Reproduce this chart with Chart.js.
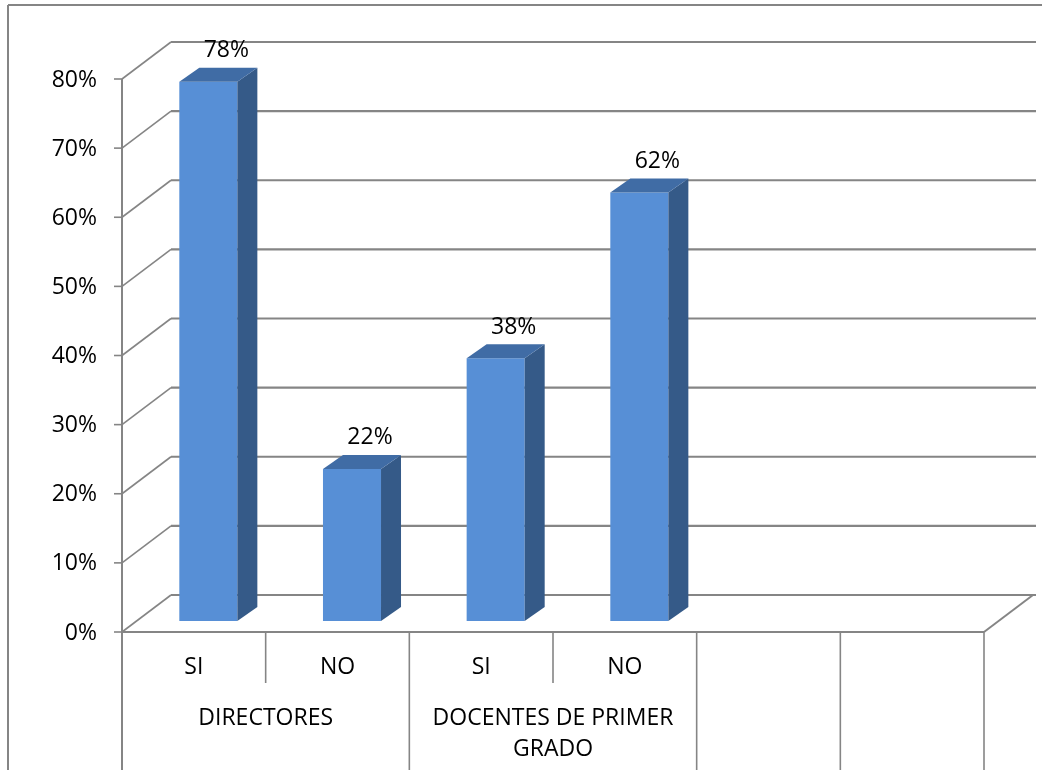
<!DOCTYPE html>
<html>
<head>
<meta charset="utf-8">
<script src="https://cdn.jsdelivr.net/npm/chart.js@4.4.1/dist/chart.umd.min.js"></script>
<style>
  html, body { margin: 0; padding: 0; background: #fff; }
  canvas { display: block; }
</style>
</head>
<body>
<canvas id="chart" width="1042" height="770"></canvas>
<script>
// Data
const categories  = ["SI", "NO", "SI", "NO", "", ""];
const groupLabels = ["DIRECTORES", "DOCENTES DE PRIMER GRADO", "", ""];
const groupSpans  = [2, 2, 1, 1];
const values      = [0.78, 0.22, 0.38, 0.62, null, null];
const yTicks      = [0, 0.1, 0.2, 0.3, 0.4, 0.5, 0.6, 0.7, 0.8];
const yTickLabels = ["0%", "10%", "20%", "30%", "40%", "50%", "60%", "70%", "80%"];

// Look
const FONT  = '23px "Open Sans", sans-serif';
const GRID  = "#858585";
const FRONT = "#578fd6";
const SIDE  = "#355a88";
const TOP   = "#406ca5";

// 3D offsets (px)
const WALL  = { x: 49, y: -37 };   // front plane -> back wall
const SHIFT = { x: 14.5, y: -11 }; // front plane -> bar front faces
const BDEP  = { x: 20, y: -14 };   // bar depth

const line = (ctx, x1, y1, x2, y2) => {
  ctx.beginPath(); ctx.moveTo(x1, y1); ctx.lineTo(x2, y2); ctx.stroke();
};

const poly = (ctx, pts, fill) => {
  ctx.beginPath();
  ctx.moveTo(pts[0][0], pts[0][1]);
  for (let i = 1; i < pts.length; i++) ctx.lineTo(pts[i][0], pts[i][1]);
  ctx.closePath();
  ctx.fillStyle = fill;
  ctx.fill();
};

// wrap a label to fit a width
const wrap = (ctx, text, maxW) => {
  const words = text.split(" ");
  const out = [];
  let cur = "";
  words.forEach(w => {
    const t = cur ? cur + " " + w : w;
    if (cur && ctx.measureText(t).width > maxW) { out.push(cur); cur = w; }
    else cur = t;
  });
  if (cur) out.push(cur);
  return out;
};

const threeD = {
  id: "threeD",
  beforeDatasetsDraw(chart) {
    const { ctx, chartArea: a, scales: { x, y } } = chart;
    ctx.save();
    ctx.strokeStyle = GRID;

    // outer frame
    ctx.lineWidth = 2;
    line(ctx, 8, 5, 1042, 5);
    line(ctx, 8, 5, 8, 770);

    // walls, diagonals, tick marks
    yTicks.forEach(t => {
      const py = y.getPixelForValue(t);
      ctx.lineWidth = 2.2;
      line(ctx, a.left + WALL.x, py + WALL.y, a.right + WALL.x + 3, py + WALL.y);
      ctx.lineWidth = 1.6;
      line(ctx, a.left, py, a.left + WALL.x, py + WALL.y);
      line(ctx, a.left - 8, py, a.left, py);
    });

    // floor front edge + right side
    const y0 = y.getPixelForValue(0);
    ctx.lineWidth = 2;
    line(ctx, a.left, y0, a.right, y0);
    line(ctx, a.right, y0, a.right + WALL.x, y0 + WALL.y);

    // value axis
    line(ctx, a.left, y.getPixelForValue(yTicks[yTicks.length - 1]), a.left, 770);

    // y tick labels
    ctx.fillStyle = "#000";
    ctx.font = FONT;
    ctx.textAlign = "right";
    ctx.textBaseline = "middle";
    yTicks.forEach((t, i) => {
      ctx.fillText(yTickLabels[i], a.left - 25, y.getPixelForValue(t) + 1);
    });

    // category axis (two levels)
    const bw = x.getPixelForValue(1) - x.getPixelForValue(0);
    const x0 = x.getPixelForValue(0) - bw / 2;
    ctx.lineWidth = 1.6;
    const groupEnds = [];
    let k = 0;
    groupSpans.forEach(s => { k += s; groupEnds.push(k); });
    for (let i = 1; i <= categories.length; i++) {
      const bx = x0 + i * bw;
      const full = groupEnds.includes(i);
      line(ctx, bx, y0, bx, full ? 770 : y0 + 51);
    }

    ctx.textAlign = "center";
    categories.forEach((c, i) => {
      if (c) ctx.fillText(c, x.getPixelForValue(i), y0 + 35);
    });

    let start = 0;
    groupLabels.forEach((g, gi) => {
      const span = groupSpans[gi];
      const cx = x0 + (start + span / 2) * bw;
      if (g) {
        const lines = wrap(ctx, g, span * bw - 20);
        lines.forEach((l, li) => ctx.fillText(l, cx, y0 + 86 + li * 31));
      }
      start += span;
    });
    ctx.restore();

    // bars are drawn shifted back into the box
    ctx.save();
    ctx.translate(SHIFT.x, SHIFT.y);
  },
  afterDatasetsDraw(chart) {
    const { ctx } = chart;
    const meta = chart.getDatasetMeta(0);
    meta.data.forEach((bar, i) => {
      if (values[i] == null) return;
      const { x, y, base, width } = bar.getProps(["x", "y", "base", "width"], true);
      const l = x - width / 2, r = x + width / 2;
      poly(ctx, [[r, y], [r + BDEP.x, y + BDEP.y], [r + BDEP.x, base + BDEP.y], [r, base]], SIDE);
      poly(ctx, [[l, y], [l + BDEP.x, y + BDEP.y], [r + BDEP.x, y + BDEP.y], [r, y]], TOP);
    });
    ctx.restore();

    // value labels
    ctx.save();
    ctx.fillStyle = "#000";
    ctx.font = FONT;
    ctx.textAlign = "center";
    ctx.textBaseline = "middle";
    meta.data.forEach((bar, i) => {
      if (values[i] == null) return;
      const { x, y } = bar.getProps(["x", "y"], true);
      const txt = Math.round(values[i] * 100) + "%";
      ctx.fillText(txt, x + SHIFT.x + 18, y + SHIFT.y + BDEP.y - 17);
    });
    ctx.restore();
  }
};

const chart = new Chart(document.getElementById("chart").getContext("2d"), {
  type: "bar",
  data: {
    labels: categories,
    datasets: [{
      data: values,
      backgroundColor: FRONT,
      borderWidth: 0,
      barPercentage: 0.404,
      categoryPercentage: 1,
      clip: false
    }]
  },
  options: {
    responsive: false,
    animation: false,
    layout: { padding: { left: 122, right: 58, top: 79, bottom: 138 } },
    plugins: { legend: { display: false }, tooltip: { enabled: false } },
    scales: {
      x: { display: false, offset: true },
      y: { display: false, min: 0, max: 0.8 }
    }
  },
  plugins: [threeD]
});
</script>
</body>
</html>
